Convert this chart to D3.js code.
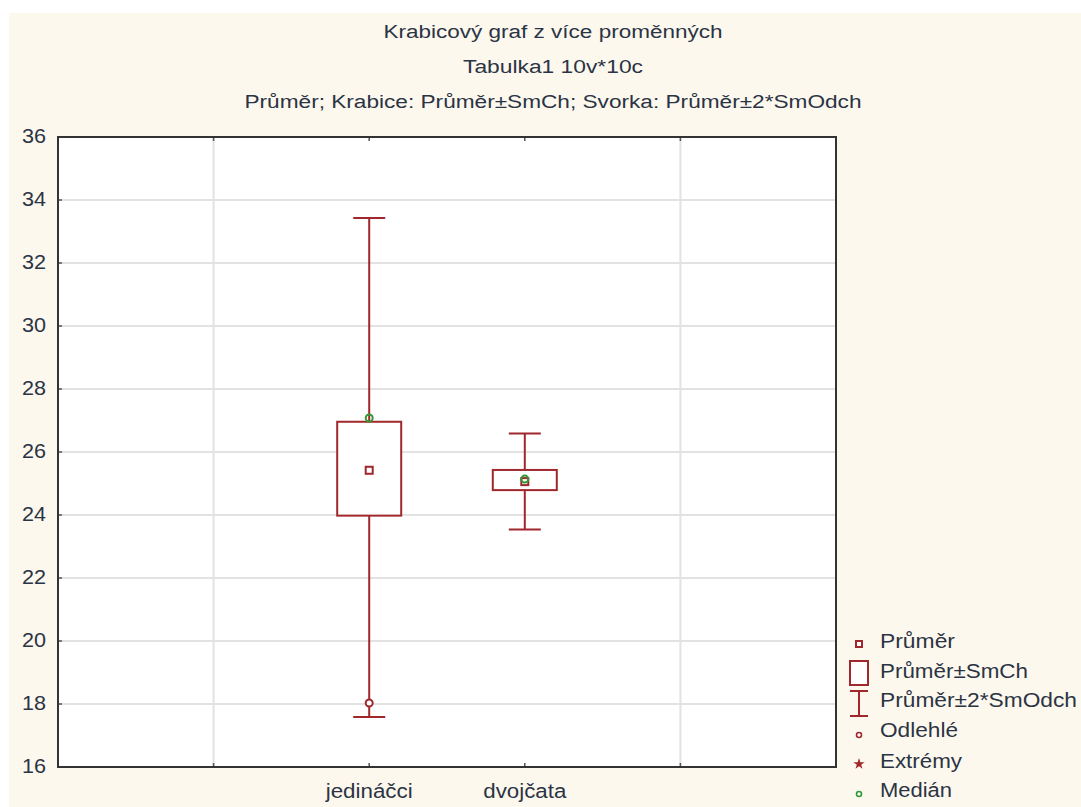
<!DOCTYPE html>
<html>
<head>
<meta charset="utf-8">
<script src="https://cdn.jsdelivr.net/npm/d3@7"></script>
<style>
  body { margin: 0; background: #fff; }
  text { font-family: "Liberation Sans", Arial, sans-serif; fill: #2b3444; }
</style>
</head>
<body>
<div id="chart"></div>
<script>
// values
const categories = ['jedináčci', 'dvojčata'];
const means = [25.42, 25.06];
const boxLow = [23.98, 24.79];
const boxHigh = [26.96, 25.43];
const whiskerLow = [17.59, 23.54];
const whiskerHigh = [33.43, 26.59];
const medians = [27.08, 25.14];
const outliers = [[18.03], []];
const yTicks = [16, 18, 20, 22, 24, 26, 28, 30, 32, 34, 36];
const titles = ['Krabicový graf z více proměnných', 'Tabulka1 10v*10c',
  'Průměr; Krabice: Průměr±SmCh; Svorka: Průměr±2*SmOdch'];
const legendLabels = ['Průměr', 'Průměr±SmCh', 'Průměr±2*SmOdch', 'Odlehlé', 'Extrémy', 'Medián'];

const W = 1081, H = 807;
const red = '#a0282c', green = '#2f9a34';

const svg = d3.select('#chart').append('svg')
  .attr('width', W).attr('height', H);

svg.append('rect')
  .attr('x', 9).attr('y', 13).attr('width', W - 9).attr('height', H - 13)
  .attr('fill', '#fdf8ee');

// titles
const titleLen = [339, 180, 617];
const titleY = [38, 73, 108];
titles.forEach((t, i) => {
  svg.append('text')
    .attr('x', 553).attr('y', titleY[i])
    .attr('text-anchor', 'middle')
    .attr('font-size', 18)
    .attr('textLength', titleLen[i])
    .attr('lengthAdjust', 'spacingAndGlyphs')
    .text(t);
});

const x = d3.scaleLinear().domain([0, 5]).range([58, 836]);
const y = d3.scaleLinear().domain([16, 36]).range([767, 137]);

svg.append('rect')
  .attr('x', x(0)).attr('y', y(36))
  .attr('width', x(5) - x(0)).attr('height', y(16) - y(36))
  .attr('fill', '#fff');

// grid
svg.append('g').selectAll('line')
  .data(yTicks.slice(1, -1))
  .enter().append('line')
  .attr('x1', x(0)).attr('x2', x(5))
  .attr('y1', d => y(d)).attr('y2', d => y(d))
  .attr('stroke', '#e2e2e2').attr('stroke-width', 2);

svg.append('g').selectAll('line')
  .data([1, 4])
  .enter().append('line')
  .attr('x1', d => x(d)).attr('x2', d => x(d))
  .attr('y1', y(36)).attr('y2', y(16))
  .attr('stroke', '#e2e2e2').attr('stroke-width', 2);

// inner tick marks
svg.append('g').selectAll('line')
  .data(yTicks.slice(1, -1))
  .enter().append('line')
  .attr('x1', x(0)).attr('x2', x(0) + 4)
  .attr('y1', d => y(d)).attr('y2', d => y(d))
  .attr('stroke', '#555').attr('stroke-width', 1.5);

[[y(16), y(16) - 4], [y(36), y(36) + 4]].forEach(([a, b]) => {
  svg.append('g').selectAll('line')
    .data([1, 2, 3, 4])
    .enter().append('line')
    .attr('x1', d => x(d)).attr('x2', d => x(d))
    .attr('y1', a).attr('y2', b)
    .attr('stroke', '#555').attr('stroke-width', 1.5);
});

// y tick labels
svg.append('g').selectAll('text')
  .data(yTicks)
  .enter().append('text')
  .attr('x', 46).attr('y', d => y(d) + 6)
  .attr('text-anchor', 'end')
  .attr('font-size', 20)
  .attr('textLength', 24)
  .attr('lengthAdjust', 'spacingAndGlyphs')
  .text(d => d);

// category labels
const catLen = [87, 83];
categories.forEach((c, i) => {
  svg.append('text')
    .attr('x', x(i + 2)).attr('y', 798)
    .attr('text-anchor', 'middle')
    .attr('font-size', 20)
    .attr('textLength', catLen[i])
    .attr('lengthAdjust', 'spacingAndGlyphs')
    .text(c);
});

// boxes
const boxW = 64, capW = 32;
categories.forEach((c, i) => {
  const cx = x(i + 2);
  const g = svg.append('g').attr('stroke', red).attr('stroke-width', 2).attr('fill', 'none');
  g.append('line').attr('x1', cx).attr('x2', cx).attr('y1', y(whiskerHigh[i])).attr('y2', y(whiskerLow[i]));
  g.append('line').attr('x1', cx - capW / 2).attr('x2', cx + capW / 2)
    .attr('y1', y(whiskerHigh[i])).attr('y2', y(whiskerHigh[i]));
  g.append('line').attr('x1', cx - capW / 2).attr('x2', cx + capW / 2)
    .attr('y1', y(whiskerLow[i])).attr('y2', y(whiskerLow[i]));
  g.append('rect')
    .attr('x', cx - boxW / 2).attr('y', y(boxHigh[i]))
    .attr('width', boxW).attr('height', y(boxLow[i]) - y(boxHigh[i]))
    .attr('fill', '#fff');
  outliers[i].forEach(v => {
    g.append('circle').attr('cx', cx).attr('cy', y(v)).attr('r', 3.5).attr('fill', '#fff');
  });
  svg.append('circle')
    .attr('cx', cx).attr('cy', y(medians[i])).attr('r', 3.5)
    .attr('fill', 'none').attr('stroke', green).attr('stroke-width', 2);
  g.append('rect')
    .attr('x', cx - 3.5).attr('y', y(means[i]) - 3.5)
    .attr('width', 7).attr('height', 7).attr('fill', '#fff');
});

// frame
svg.append('rect')
  .attr('x', x(0)).attr('y', y(36))
  .attr('width', x(5) - x(0)).attr('height', y(16) - y(36))
  .attr('fill', 'none').attr('stroke', '#333').attr('stroke-width', 2);

// legend
const legY = [648, 678, 707, 737, 768, 797];
const legLen = [75, 148, 197, 78, 82, 72];
const lg = svg.append('g');
legendLabels.forEach((t, i) => {
  lg.append('text')
    .attr('x', 880).attr('y', legY[i])
    .attr('font-size', 20)
    .attr('textLength', legLen[i])
    .attr('lengthAdjust', 'spacingAndGlyphs')
    .text(t);
});
const mx = 859;
lg.append('rect').attr('x', mx - 3).attr('y', 641).attr('width', 6).attr('height', 6)
  .attr('fill', '#fff').attr('stroke', red).attr('stroke-width', 2);
lg.append('rect').attr('x', mx - 9).attr('y', 661).attr('width', 18).attr('height', 24)
  .attr('fill', '#fff').attr('stroke', red).attr('stroke-width', 2);
lg.append('line').attr('x1', mx - 9).attr('x2', mx + 9).attr('y1', 691).attr('y2', 691)
  .attr('stroke', red).attr('stroke-width', 2);
lg.append('line').attr('x1', mx).attr('x2', mx).attr('y1', 691).attr('y2', 716)
  .attr('stroke', red).attr('stroke-width', 2);
lg.append('line').attr('x1', mx - 9).attr('x2', mx + 9).attr('y1', 716).attr('y2', 716)
  .attr('stroke', red).attr('stroke-width', 2);
lg.append('circle').attr('cx', mx).attr('cy', 735).attr('r', 2.5)
  .attr('fill', '#fff').attr('stroke', red).attr('stroke-width', 1.6);
lg.append('path').attr('d', d3.symbol(d3.symbolStar, 40)())
  .attr('transform', `translate(${mx},764)`).attr('fill', red);
lg.append('circle').attr('cx', mx).attr('cy', 794).attr('r', 2.5)
  .attr('fill', '#fff').attr('stroke', green).attr('stroke-width', 1.6);
</script>
</body>
</html>
